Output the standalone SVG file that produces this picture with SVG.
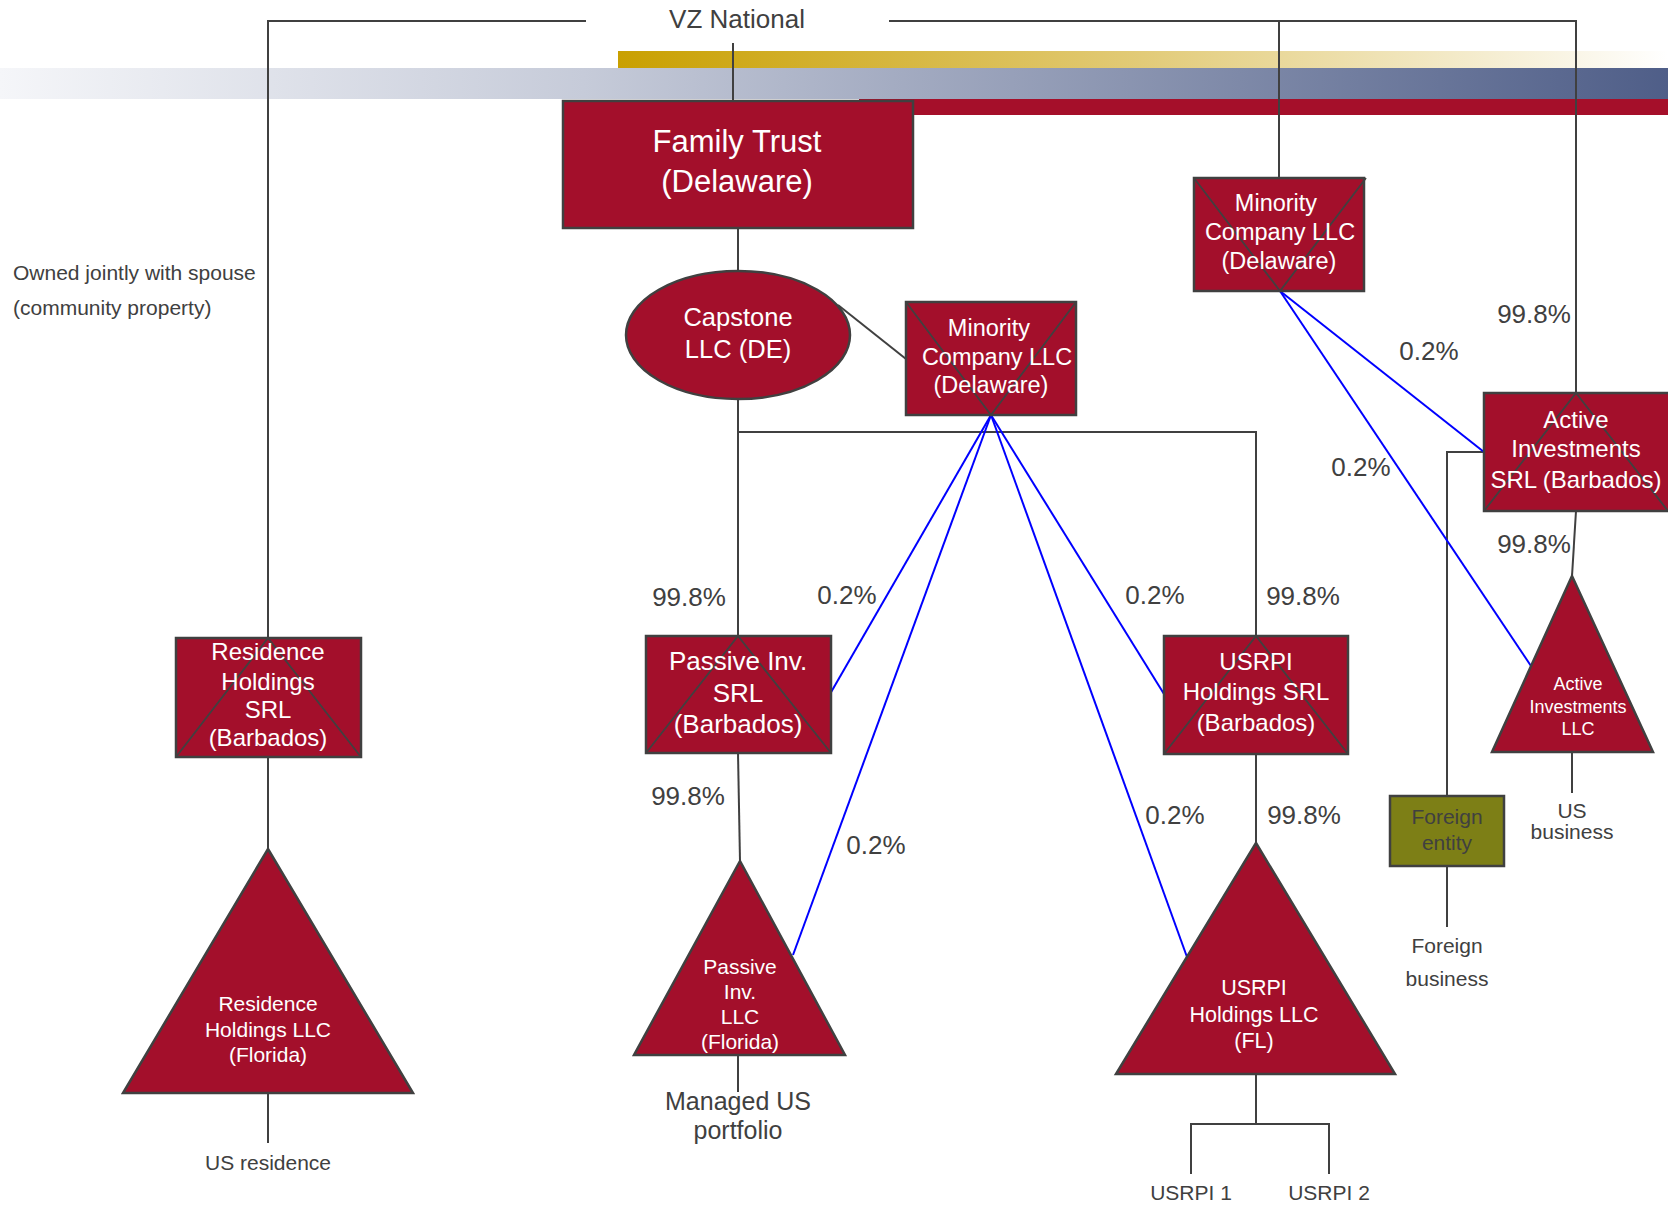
<svg xmlns="http://www.w3.org/2000/svg" width="1668" height="1205" viewBox="0 0 1668 1205">
<style>
text{font-family:"Liberation Sans",Arial,sans-serif;text-anchor:middle}
.w{fill:#ffffff}
.g{fill:#404040}
.node{fill:#A30F2B;stroke:#404040;stroke-width:2.5}
.olive{fill:#7D7F16;stroke:#404040;stroke-width:2.5}
.x{fill:none;stroke:#404040;stroke-width:1.8}
.c{fill:none;stroke:#404040;stroke-width:2}
.b{fill:none;stroke:#0000FF;stroke-width:2}
.p{font-size:26px}
</style>
<defs>
<linearGradient id="blue" x1="0" y1="0" x2="1668" y2="0" gradientUnits="userSpaceOnUse">
<stop offset="0" stop-color="#F5F6F9"/>
<stop offset="0.35" stop-color="#C6CBD9"/>
<stop offset="1" stop-color="#4F5E88"/>
</linearGradient>
<linearGradient id="gold" x1="618" y1="0" x2="1668" y2="0" gradientUnits="userSpaceOnUse">
<stop offset="0" stop-color="#C9A000"/>
<stop offset="0.5" stop-color="#E2CB78"/>
<stop offset="1" stop-color="#FFFFFF"/>
</linearGradient>
</defs>
<rect width="1668" height="1205" fill="#ffffff"/>
<g id="background">
<rect x="618" y="51" width="1050" height="17" fill="url(#gold)"/>
<rect x="0" y="68" width="1668" height="31" fill="url(#blue)"/>
<rect x="859" y="99" width="809" height="16" fill="#A50F2A"/>
</g>
<g id="connectors">
<polyline class="c" points="586,21 268,21 268,638"/>
<polyline class="c" points="889,21 1576,21 1576,393"/>
<line class="c" x1="1279" y1="21" x2="1279" y2="178"/>
<line class="c" x1="733" y1="43" x2="733" y2="101"/>
<line class="c" x1="738" y1="228" x2="738" y2="271"/>
<line class="c" x1="838" y1="305" x2="906" y2="359"/>
<line class="c" x1="738" y1="399" x2="738" y2="636"/>
<polyline class="c" points="738,432 1256,432 1256,636"/>
<line class="c" x1="738" y1="753" x2="740" y2="861"/>
<line class="c" x1="738" y1="1055" x2="738" y2="1092"/>
<line class="c" x1="268" y1="757" x2="268" y2="849"/>
<line class="c" x1="268" y1="1093" x2="268" y2="1143"/>
<line class="c" x1="1256" y1="754" x2="1256" y2="843"/>
<line class="c" x1="1256" y1="1074" x2="1256" y2="1124"/>
<polyline class="c" points="1191,1174 1191,1124 1329,1124 1329,1174"/>
<line class="c" x1="1576" y1="511" x2="1572" y2="576"/>
<line class="c" x1="1572" y1="752" x2="1572" y2="793"/>
<polyline class="c" points="1484,452 1447,452 1447,796"/>
<line class="c" x1="1447" y1="866" x2="1447" y2="927"/>
<line class="b" x1="991" y1="415" x2="830" y2="694"/>
<line class="b" x1="991" y1="415" x2="793" y2="955"/>
<line class="b" x1="991" y1="415" x2="1164" y2="694"/>
<line class="b" x1="991" y1="415" x2="1187" y2="957"/>
<line class="b" x1="1280" y1="291" x2="1484" y2="452"/>
<line class="b" x1="1280" y1="291" x2="1531" y2="666"/>
</g>
<g id="vz-national">
<text class="g" x="737" y="28" font-size="26">VZ National</text>
</g>
<g id="note">
<text class="g" x="13" y="280" font-size="21" style="text-anchor:start">Owned jointly with spouse</text>
<text class="g" x="13" y="315" font-size="21" style="text-anchor:start">(community property)</text>
</g>
<g id="family-trust">
<rect class="node" x="563" y="101" width="350" height="127"/>
<text class="w" x="737" y="152" font-size="31">Family Trust</text>
<text class="w" x="737" y="192" font-size="31">(Delaware)</text>
</g>
<g id="capstone">
<ellipse class="node" cx="738" cy="335" rx="112" ry="64"/>
<text class="w" x="738" y="326" font-size="25.5">Capstone</text>
<text class="w" x="738" y="358" font-size="25.5">LLC (DE)</text>
</g>
<g id="minority-left">
<rect class="node" x="906" y="302" width="170" height="113"/>
<polyline class="x" points="906,302 991,415 1076,302"/>
<text class="w" x="989" y="336" font-size="23.5">Minority</text>
<text class="w" x="997" y="365" font-size="23.5">Company LLC</text>
<text class="w" x="991" y="393" font-size="23.5">(Delaware)</text>
</g>
<g id="minority-top">
<rect class="node" x="1194" y="178" width="170" height="113"/>
<polyline class="x" points="1194,178 1280,291 1366,178"/>
<text class="w" x="1276" y="211" font-size="23.5">Minority</text>
<text class="w" x="1280" y="240" font-size="23.5">Company LLC</text>
<text class="w" x="1279" y="269" font-size="23.5">(Delaware)</text>
</g>
<g id="active-srl">
<rect class="node" x="1484" y="393" width="186" height="118"/>
<polyline class="x" points="1484,511 1576,393 1668,511"/>
<text class="w" x="1576" y="428" font-size="24">Active</text>
<text class="w" x="1576" y="457" font-size="24">Investments</text>
<text class="w" x="1576" y="488" font-size="24">SRL (Barbados)</text>
</g>
<g id="residence-srl">
<rect class="node" x="176" y="638" width="185" height="119"/>
<polyline class="x" points="176,757 268,638 361,757"/>
<text class="w" x="268" y="660" font-size="24">Residence</text>
<text class="w" x="268" y="690" font-size="24">Holdings</text>
<text class="w" x="268" y="718" font-size="24">SRL</text>
<text class="w" x="268" y="746" font-size="24">(Barbados)</text>
</g>
<g id="passive-srl">
<rect class="node" x="646" y="636" width="185" height="117"/>
<polyline class="x" points="646,753 738,636 831,753"/>
<text class="w" x="738" y="670" font-size="26">Passive Inv.</text>
<text class="w" x="738" y="702" font-size="26">SRL</text>
<text class="w" x="738" y="733" font-size="26">(Barbados)</text>
</g>
<g id="usrpi-srl">
<rect class="node" x="1164" y="636" width="184" height="118"/>
<polyline class="x" points="1164,754 1256,636 1348,754"/>
<text class="w" x="1256" y="670" font-size="24">USRPI</text>
<text class="w" x="1256" y="700" font-size="24">Holdings SRL</text>
<text class="w" x="1256" y="731" font-size="24">(Barbados)</text>
</g>
<g id="residence-llc">
<polygon class="node" points="268,849 413,1093 123,1093"/>
<text class="w" x="268" y="1011" font-size="21">Residence</text>
<text class="w" x="268" y="1037" font-size="21">Holdings LLC</text>
<text class="w" x="268" y="1062" font-size="21">(Florida)</text>
</g>
<g id="passive-llc">
<polygon class="node" points="740,861 845,1055 634,1055"/>
<text class="w" x="740" y="974" font-size="21">Passive</text>
<text class="w" x="740" y="999" font-size="21">Inv.</text>
<text class="w" x="740" y="1024" font-size="21">LLC</text>
<text class="w" x="740" y="1049" font-size="21">(Florida)</text>
</g>
<g id="usrpi-llc">
<polygon class="node" points="1256,843 1395,1074 1116,1074"/>
<text class="w" x="1254" y="995" font-size="21.5">USRPI</text>
<text class="w" x="1254" y="1022" font-size="21.5">Holdings LLC</text>
<text class="w" x="1254" y="1048" font-size="21.5">(FL)</text>
</g>
<g id="active-llc">
<polygon class="node" points="1572,576 1653,752 1492,752"/>
<text class="w" x="1578" y="690" font-size="18">Active</text>
<text class="w" x="1578" y="713" font-size="18">Investments</text>
<text class="w" x="1578" y="735" font-size="18">LLC</text>
</g>
<g id="foreign-entity">
<rect class="olive" x="1390" y="796" width="114" height="70"/>
<text class="g" x="1447" y="824" font-size="21">Foreign</text>
<text class="g" x="1447" y="850" font-size="21">entity</text>
</g>
<g id="leaf-labels">
<text class="g" x="1572" y="818" font-size="21">US</text>
<text class="g" x="1572" y="839" font-size="21">business</text>
<text class="g" x="1447" y="953" font-size="21">Foreign</text>
<text class="g" x="1447" y="986" font-size="21">business</text>
<text class="g" x="268" y="1170" font-size="21">US residence</text>
<text class="g" x="738" y="1110" font-size="25">Managed US</text>
<text class="g" x="738" y="1138.5" font-size="25">portfolio</text>
<text class="g" x="1191" y="1200" font-size="21">USRPI 1</text>
<text class="g" x="1329" y="1200" font-size="21">USRPI 2</text>
</g>
<g id="percentages">
<text class="g p" x="689" y="606">99.8%</text>
<text class="g p" x="847" y="604">0.2%</text>
<text class="g p" x="1155" y="604">0.2%</text>
<text class="g p" x="1303" y="605">99.8%</text>
<text class="g p" x="688" y="805">99.8%</text>
<text class="g p" x="876" y="854">0.2%</text>
<text class="g p" x="1175" y="824">0.2%</text>
<text class="g p" x="1304" y="824">99.8%</text>
<text class="g p" x="1534" y="323">99.8%</text>
<text class="g p" x="1429" y="360">0.2%</text>
<text class="g p" x="1361" y="476">0.2%</text>
<text class="g p" x="1534" y="553">99.8%</text>
</g>
</svg>
